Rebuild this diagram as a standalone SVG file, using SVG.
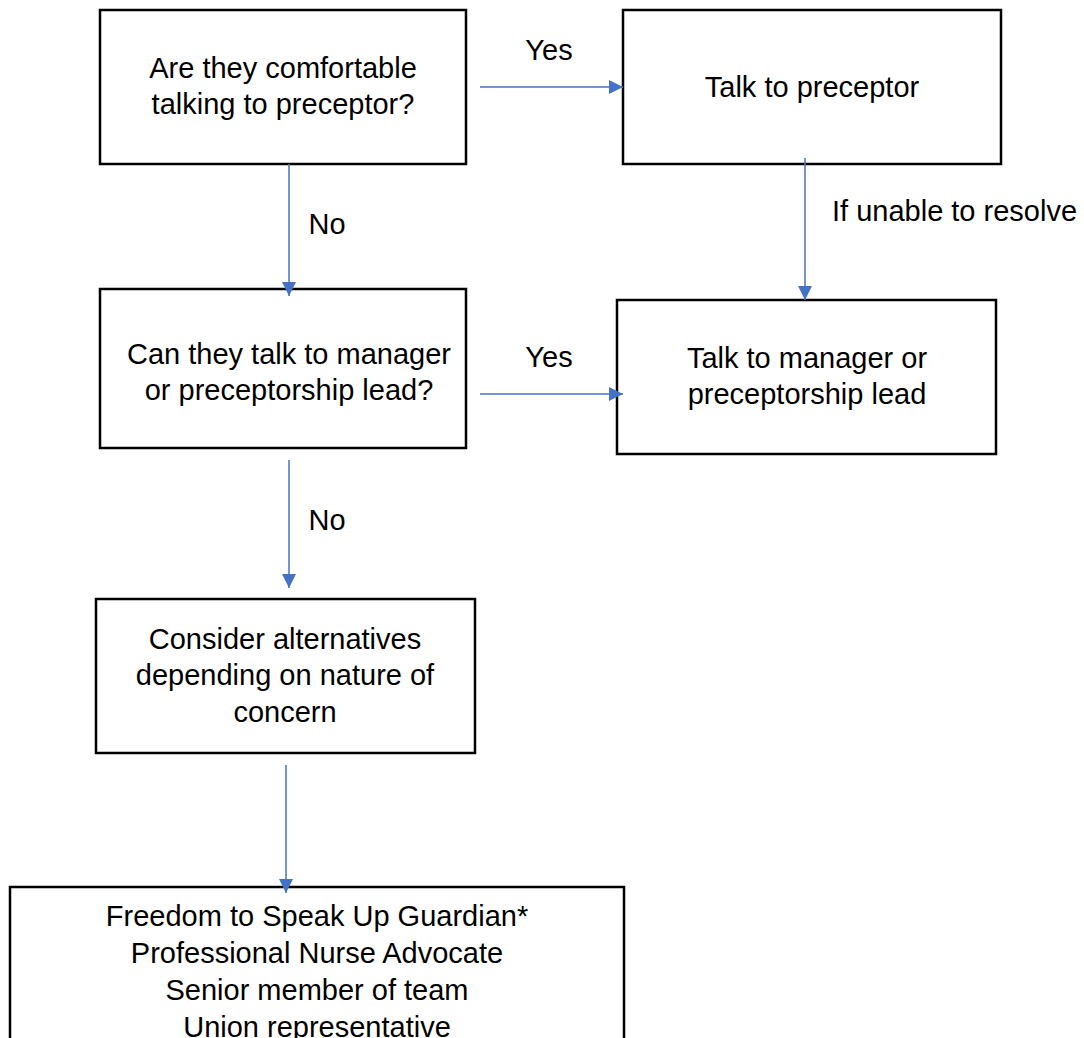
<svg xmlns="http://www.w3.org/2000/svg" width="1084" height="1038" viewBox="0 0 1084 1038">
<style>
.box{fill:#fff;stroke:#000;stroke-width:2.5}
.t{font-family:"Liberation Sans",Arial,sans-serif;font-size:29px;fill:#000;text-anchor:middle}
.lbl{font-family:"Liberation Sans",Arial,sans-serif;font-size:29px;fill:#000}
.c{stroke:#4472C4;stroke-width:1.5;fill:none;marker-end:url(#ah)}
</style>
<defs>
<marker id="ah" markerUnits="userSpaceOnUse" markerWidth="16" markerHeight="16" refX="14" refY="7" orient="auto">
<path d="M0,0 L14,7 L0,14 Z" fill="#4472C4"/>
</marker>
</defs>
<rect width="1084" height="1038" fill="#fff"/>
<g id="n1">
<rect class="box" x="100" y="10" width="366" height="154"/>
<text class="t" x="283" y="78">Are they comfortable</text>
<text class="t" x="283" y="114">talking to preceptor?</text>
</g>
<g id="n2">
<rect class="box" x="623" y="10" width="378" height="154"/>
<text class="t" x="812" y="97">Talk to preceptor</text>
</g>
<g id="n3">
<rect class="box" x="100" y="289" width="366" height="159"/>
<text class="t" x="289" y="364">Can they talk to manager</text>
<text class="t" x="289" y="400">or preceptorship lead?</text>
</g>
<g id="n4">
<rect class="box" x="617" y="300" width="379" height="154"/>
<text class="t" x="807" y="368">Talk to manager or</text>
<text class="t" x="807" y="404">preceptorship lead</text>
</g>
<g id="n5">
<rect class="box" x="96" y="599" width="379" height="154"/>
<text class="t" x="285" y="649">Consider alternatives</text>
<text class="t" x="285" y="685">depending on nature of</text>
<text class="t" x="285" y="722">concern</text>
</g>
<g id="n6">
<rect class="box" x="10" y="887" width="614" height="200"/>
<text class="t" x="317" y="926">Freedom to Speak Up Guardian*</text>
<text class="t" x="317" y="963">Professional Nurse Advocate</text>
<text class="t" x="317" y="1000">Senior member of team</text>
<text class="t" x="317" y="1037">Union representative</text>
</g>
<g id="connectors">
<line class="c" x1="480" y1="87" x2="623" y2="87"/>
<line class="c" x1="289" y1="164" x2="289" y2="296"/>
<line class="c" x1="805" y1="158" x2="805" y2="300"/>
<line class="c" x1="480" y1="394" x2="623" y2="394"/>
<line class="c" x1="289" y1="460" x2="289" y2="588"/>
<line class="c" x1="286" y1="765" x2="286" y2="893"/>
<text class="lbl" x="549" y="60" text-anchor="middle">Yes</text>
<text class="lbl" x="327" y="234" text-anchor="middle">No</text>
<text class="lbl" x="832" y="221">If unable to resolve</text>
<text class="lbl" x="549" y="367" text-anchor="middle">Yes</text>
<text class="lbl" x="327" y="530" text-anchor="middle">No</text>
</g>
</svg>
